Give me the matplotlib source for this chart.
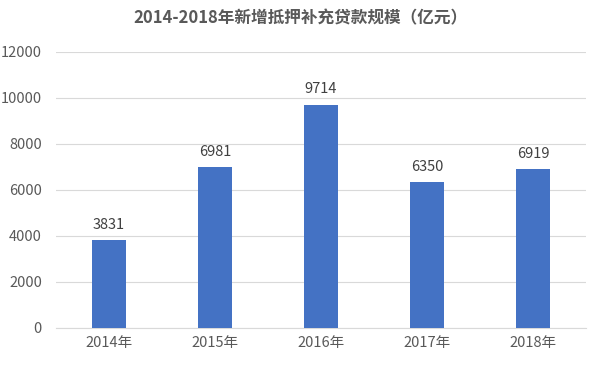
import matplotlib
matplotlib.use("Agg")
import matplotlib.pyplot as plt

plt.rcParams['font.family'] = ['Noto Sans CJK SC', 'DejaVu Sans']

years = ["2014年", "2015年", "2016年", "2017年", "2018年"]
values = [3831, 6981, 9714, 6350, 6919]
yticks = [0, 2000, 4000, 6000, 8000, 10000, 12000]

fig = plt.figure(figsize=(6, 3.66), dpi=100)
ax = fig.add_axes([0.093, 0.104, 0.884, 0.754])

x = range(len(years))
bars = ax.bar(x, values, width=0.32, color="#4472C4", zorder=3)
for xi, v in zip(x, values):
    ax.text(xi, v + 350, str(v), ha="center", va="bottom", fontsize=10.5, color="#404040")

ax.set_xlim(-0.5, len(years) - 0.5)
ax.set_ylim(0, 12000)
ax.set_yticks(yticks)
ax.set_xticks(list(x))
ax.set_xticklabels(years)
ax.tick_params(axis="both", length=0, labelsize=10.5, labelcolor="#595959")
ax.tick_params(axis="y", pad=10)
ax.tick_params(axis="x", pad=6)
ax.grid(axis="y", color="#d9d9d9", linewidth=0.8, zorder=0)
for s in ["top", "right", "left"]:
    ax.spines[s].set_visible(False)
ax.spines["bottom"].set_color("#d9d9d9")

fig.text(0.5, 0.95, "2014-2018年新增抵押补充贷款规模（亿元）", ha="center", va="center",
         fontsize=12, fontweight="bold", color="#595959")

fig.savefig("out.png", dpi=100)
